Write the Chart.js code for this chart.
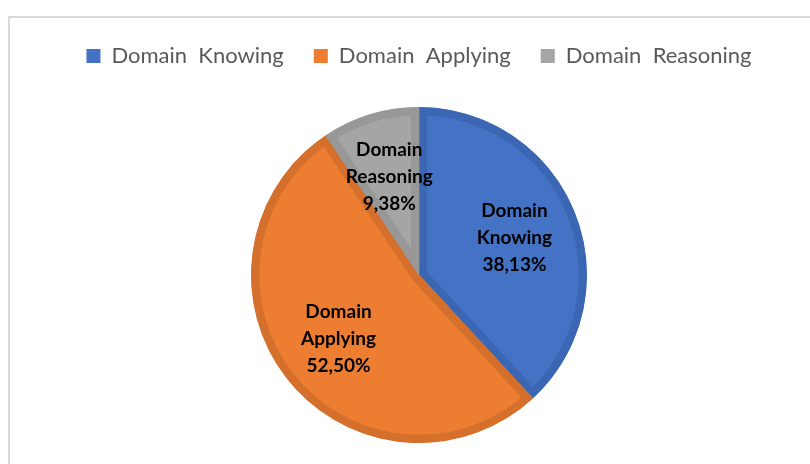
<!DOCTYPE html>
<html>
<head>
<meta charset="utf-8">
<script src="https://cdn.jsdelivr.net/npm/chart.js@4.4.0/dist/chart.umd.min.js"></script>
<style>
    html, body { margin: 0; padding: 0; background: #fff; overflow: hidden; }
    #frame { position: absolute; left: 8px; top: 16px; width: 900px; height: 600px; border: 2px solid #d9d9d9; }
    #wrap { position: absolute; left: 0; top: 0; width: 810px; height: 473px; }
</style>
</head>
<body>
<div id="frame"></div>
<div id="wrap"><canvas id="pieChart"></canvas></div>
<script>
const categories = ['Domain Knowing', 'Domain Applying', 'Domain Reasoning'];
const percentages = [38.13, 52.50, 9.38];
const fillColors = ['#4472C4', '#ED7D31', '#A5A5A5'];
const borderColors = ['#3B66B3', '#D4702C', '#989898'];

// labels inside the slices: name on two lines, then the percentage
const sliceLabels = {
    id: 'sliceLabels',
    afterDatasetsDraw(chart) {
        const ctx = chart.ctx;
        const meta = chart.getDatasetMeta(0);
        ctx.save();
        ctx.font = 'bold 19px Lato';
        ctx.fillStyle = '#000';
        ctx.textAlign = 'center';
        ctx.textBaseline = 'middle';
        meta.data.forEach((arc, i) => {
            const mid = (arc.startAngle + arc.endAngle) / 2;
            const r = arc.outerRadius * 0.61;
            const x = arc.x + Math.cos(mid) * r;
            const y = arc.y + Math.sin(mid) * r;
            const lines = categories[i].split(' ')
                .concat(percentages[i].toFixed(2).replace('.', ',') + '%');
            lines.forEach((t, j) => ctx.fillText(t, x, y + (j - 1) * 27));
        });
        ctx.restore();
    }
};

window.onload = function () {
    const pieCtx = document.getElementById('pieChart');
    new Chart(pieCtx, {
        type: 'pie',
        data: {
            labels: categories,
            datasets: [{
                data: percentages,
                backgroundColor: fillColors,
                borderColor: borderColors,
                borderWidth: 8,
                borderAlign: 'inner',
                radius: 168
            }]
        },
        options: {
            responsive: true,
            maintainAspectRatio: false,
            animation: false,
            layout: {
                padding: { top: 15, left: 28, right: 0, bottom: 0 }
            },
            plugins: {
                tooltip: { enabled: false },
                legend: {
                    position: 'top',
                    labels: {
                        boxWidth: 14,
                        boxHeight: 14,
                        padding: 30,
                        color: '#595959',
                        font: { family: 'Lato', size: 22 },
                        generateLabels(chart) {
                            const items = Chart.overrides.pie.plugins.legend.labels.generateLabels(chart);
                            items.forEach(it => {
                                it.text = it.text.replace(' ', '  ');
                                it.lineWidth = 0;
                            });
                            return items;
                        }
                    }
                }
            }
        },
        plugins: [sliceLabels]
    });
};
</script>
</body>
</html>
